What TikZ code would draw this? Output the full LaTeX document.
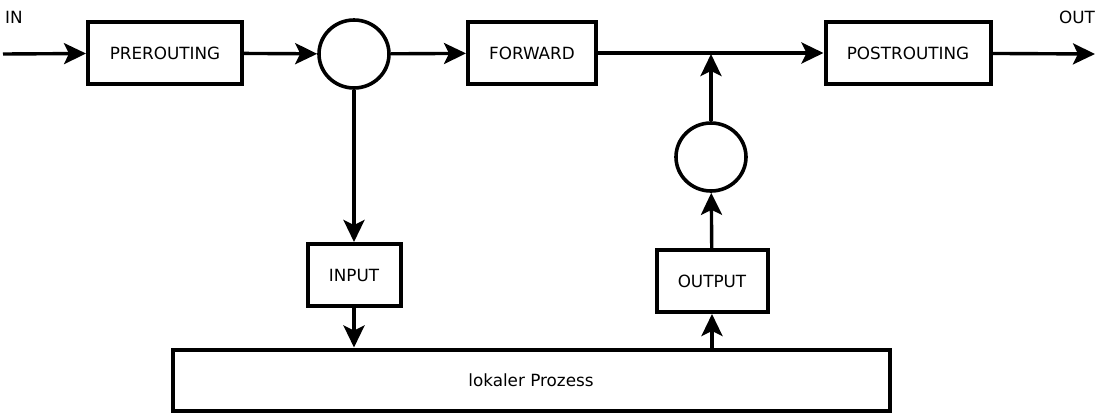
\documentclass[tikz,border=0pt]{standalone}
\usepackage{fontspec}
\setmainfont{DejaVu Sans}
\usetikzlibrary{shapes.geometric, arrows.meta, positioning}

\begin{document}
\begin{tikzpicture}[
        x=0.5pt, y=-0.5pt,
        line width=1.7pt,
        font=\fontsize{8.4}{10}\selectfont,
        chain/.style={rectangle, draw=black, line width=2pt, fill=white, align=center, minimum height=31pt, inner sep=0pt},
        hook/.style={ellipse, draw=black, line width=1.8pt, fill=white, minimum width=35pt, minimum height=34pt, inner sep=0pt},
        label/.style={inner sep=0pt},
        arrow/.style={-{Stealth[length=11pt, width=10.5pt, inset=2.5pt]}}
    ]
        \useasboundingbox (0,0) rectangle (1100,419);

        % Main path (top row)
        \coordinate (in) at (3,54);
        \node[chain, minimum width=77pt] (prerouting) at (165,53) {PREROUTING};
        \node[hook] (route) at (354,54) {};
        \node[chain, minimum width=64pt] (forward) at (532,53) {FORWARD};
        \node[chain, minimum width=82.5pt] (postrouting) at (908,53) {POSTROUTING};
        \coordinate (out) at (1095,54);
        \coordinate (merge) at (711,54);

        \node[label] (inlabel) at (14,17) {IN};
        \node[label] (outlabel) at (1077,17) {OUT};

        % Local path
        \node[chain, minimum width=46.5pt] (input) at (354,275) {INPUT};
        \node[chain, minimum width=358.5pt, minimum height=30.5pt] (proc) at (531,380) {lokaler Prozess};
        \node[chain, minimum width=55.5pt] (output) at (712,281) {OUTPUT};
        \node[hook] (outroute) at (711,157) {};

        % Connections
        \draw[arrow] (in) -- (prerouting);
        \draw[arrow] (prerouting) -- (route);
        \draw[arrow] (route) -- (forward);
        \draw[arrow] (forward) -- (postrouting);
        \draw[arrow] (postrouting) -- (out);

        \draw[arrow] (route) -- (input);
        \draw[arrow] (input) -- (input |- proc.north);
        \draw[arrow] (proc.north -| output) -- (output);
        \draw[arrow] (output) -- (outroute);
        \draw[arrow] (outroute) -- (merge);

    \end{tikzpicture}
\end{document}
